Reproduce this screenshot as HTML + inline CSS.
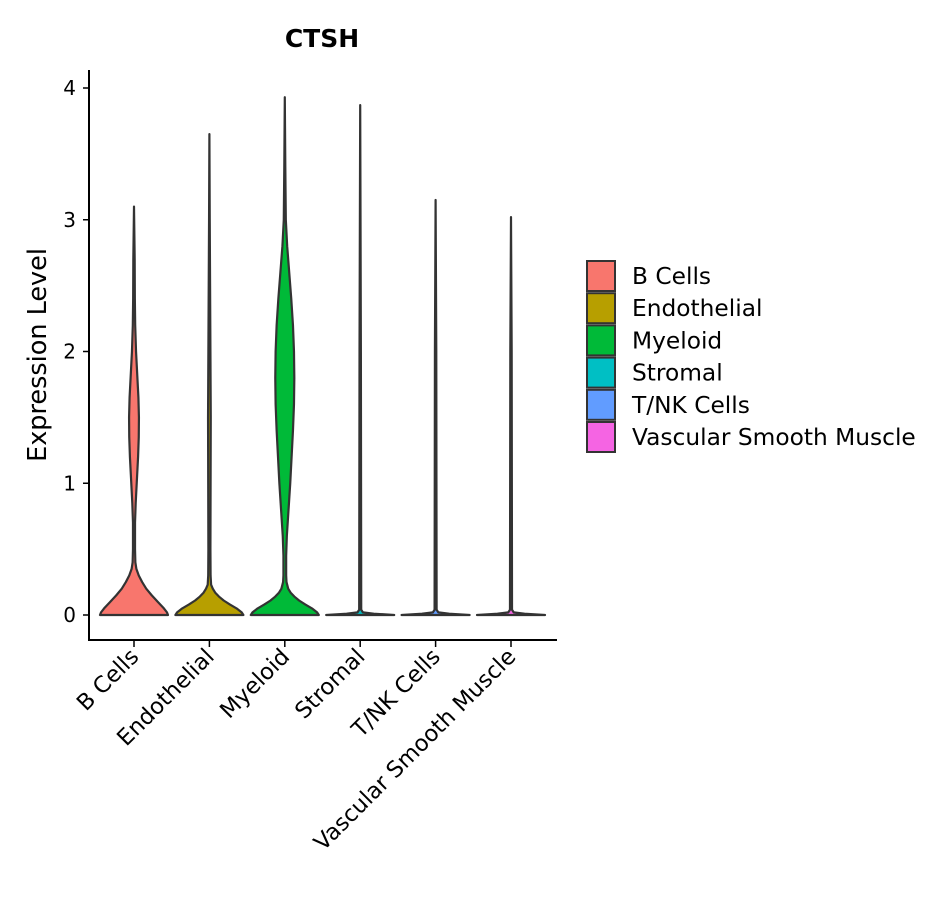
<!DOCTYPE html>
<html><head><meta charset="utf-8"><style>
body{margin:0;background:#fff;}
svg{display:block;font-family:"DejaVu Sans","Liberation Sans",sans-serif;}
</style></head><body>
<svg id="c" width="944" height="900" viewBox="0 0 944 900">
<rect width="944" height="900" fill="#fff"/>
<text x="322" y="47" text-anchor="middle" font-size="25" font-weight="bold">CTSH</text>
<text transform="translate(46,355) rotate(-90)" text-anchor="middle" font-size="25.5">Expression Level</text>
<g id="plot"></g>
</svg>
<script>
const categories = ["B Cells","Endothelial","Myeloid","Stromal","T/NK Cells","Vascular Smooth Muscle"];
const colors = ["#F8766D","#B79F00","#00BA38","#00BFC4","#619CFF","#F564E3"];
const yTicks = [0,1,2,3,4];
const densY = [
 [0,0.02,0.05,0.1,0.15,0.2,0.25,0.3,0.35,0.4,0.5,0.7,0.85,1.0,1.2,1.35,1.5,1.65,1.8,2.0,2.2,2.4,2.7,3.1],
 [0,0.02,0.05,0.08,0.11,0.14,0.17,0.2,0.23,0.3,0.5,1.0,1.5,2.0,2.5,3.0,3.65],
 [0,0.02,0.05,0.08,0.11,0.14,0.17,0.2,0.25,0.3,0.45,0.6,0.8,1.0,1.2,1.4,1.6,1.8,2.0,2.2,2.4,2.6,2.8,3.0,3.4,3.93],
 [0,0.01,0.02,0.04,1.0,2.0,3.87],
 [0,0.01,0.02,0.04,1.0,2.0,3.15],
 [0,0.01,0.02,0.04,1.0,2.0,3.02]
];
const densW = [
 [1.0,0.97,0.88,0.7,0.52,0.36,0.24,0.14,0.07,0.04,0.03,0.03,0.05,0.08,0.12,0.14,0.145,0.13,0.1,0.06,0.035,0.025,0.02,0],
 [1.0,0.95,0.8,0.6,0.42,0.28,0.17,0.1,0.05,0.035,0.03,0.035,0.04,0.03,0.02,0.01,0],
 [1.0,0.95,0.8,0.6,0.42,0.28,0.17,0.1,0.05,0.04,0.04,0.06,0.11,0.16,0.2,0.24,0.27,0.28,0.27,0.24,0.19,0.13,0.07,0.03,0.015,0],
 [1.0,0.4,0.08,0.03,0.025,0.02,0],
 [1.0,0.4,0.08,0.03,0.025,0.02,0],
 [1.0,0.4,0.08,0.03,0.025,0.02,0]
];
const NS="http://www.w3.org/2000/svg";
const g=document.getElementById('plot');
const y0=615, yUnit=131.75, x0=134, xStep=75.4, maxHW=34;
const yS=v=>y0-v*yUnit, xS=i=>x0+i*xStep;
function mk(t,a){const e=document.createElementNS(NS,t);for(const k in a)e.setAttribute(k,a[k]);g.appendChild(e);return e;}
categories.forEach((c,i)=>{
  const cx=xS(i), ys=densY[i], ws=densW[i];
  let pts=[];
  for(let k=0;k<ys.length;k++) pts.push((cx+ws[k]*maxHW).toFixed(2)+","+yS(ys[k]).toFixed(2));
  for(let k=ys.length-1;k>=0;k--) pts.push((cx-ws[k]*maxHW).toFixed(2)+","+yS(ys[k]).toFixed(2));
  const p=mk('path',{d:"M"+pts.join("L")+"Z",fill:colors[i],stroke:'#333','stroke-width':2.2,'stroke-linejoin':'round'});
  
  
  mk('line',{x1:cx,x2:cx,y1:641,y2:647,stroke:'#000','stroke-width':1.5});
  const t=mk('text',{transform:`translate(${cx+6},${658}) rotate(-45)`,'text-anchor':'end','font-size':22.5});
  t.textContent=c;
  
  
});
const ya=mk('line',{x1:89,x2:89,y1:70,y2:641,stroke:'#000','stroke-width':2});


const xa=mk('line',{x1:88,x2:557,y1:640,y2:640,stroke:'#000','stroke-width':2});


yTicks.forEach(v=>{
  mk('line',{x1:83,x2:89,y1:yS(v),y2:yS(v),stroke:'#000','stroke-width':1.5});
  const t=mk('text',{x:76,y:yS(v)+7,'text-anchor':'end','font-size':20});
  t.textContent=v;
  
  
});
categories.forEach((c,i)=>{
  const y=261+i*32.2;
  const r=mk('rect',{x:587,y:y,width:28,height:30,fill:colors[i],stroke:'#333','stroke-width':2});
  
  
  const t=mk('text',{x:632,y:y+23,'font-size':23.3});
  t.textContent=c;
  
  
});
</script>
</body></html>
